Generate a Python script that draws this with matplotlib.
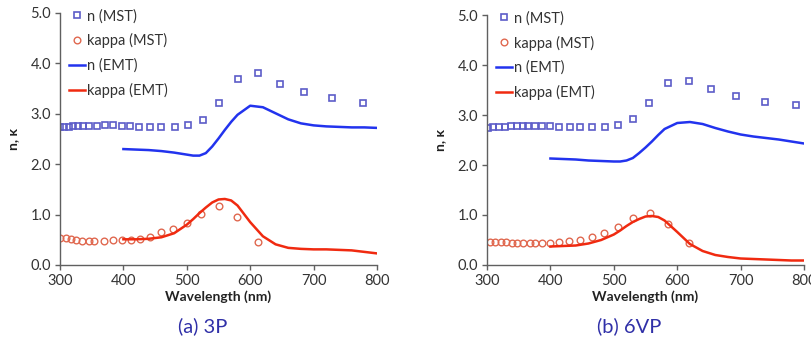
import numpy as np
import matplotlib
matplotlib.use("Agg")
from matplotlib import pyplot as plt

plt.rcParams['font.family'] = ['Lato', 'DejaVu Sans']

# ---- (a) 3P ----
a_wl_n = [300, 307, 314, 321, 329, 337, 345, 358, 371, 384, 397, 410, 425,
          442, 460, 481, 502, 525, 551, 580, 613, 647, 685, 729, 778]
a_n_mst = [2.74, 2.74, 2.74, 2.75, 2.75, 2.76, 2.76, 2.76, 2.77, 2.77, 2.76,
           2.75, 2.74, 2.74, 2.73, 2.74, 2.77, 2.88, 3.22, 3.70, 3.80, 3.60,
           3.43, 3.31, 3.22]
a_wl_k = [300, 309, 317, 326, 335, 345, 354, 369, 384, 397, 412, 426, 442,
          459, 479, 501, 523, 551, 579, 613]
a_k_mst = [0.53, 0.53, 0.51, 0.50, 0.48, 0.48, 0.48, 0.48, 0.50, 0.50, 0.50,
           0.51, 0.56, 0.66, 0.71, 0.83, 1.01, 1.17, 0.96, 0.46]

emt_wl = [400, 420, 440, 460, 480, 500, 510, 520, 530, 540, 550, 560, 570,
          580, 600, 620, 640, 660, 680, 700, 720, 740, 760, 780, 800]
a_n_emt = [2.30, 2.29, 2.28, 2.26, 2.23, 2.19, 2.17, 2.17, 2.22, 2.35, 2.51,
           2.68, 2.84, 2.98, 3.16, 3.13, 3.01, 2.89, 2.81, 2.77, 2.75, 2.74,
           2.73, 2.73, 2.72]
a_k_emt = [0.51, 0.51, 0.52, 0.55, 0.63, 0.80, 0.91, 1.03, 1.14, 1.24, 1.30,
           1.31, 1.28, 1.18, 0.85, 0.57, 0.41, 0.34, 0.32, 0.31, 0.31, 0.30,
           0.29, 0.26, 0.23]

# ---- (b) 6VP ----
b_wl_n = [302, 310, 319, 328, 338, 347, 356, 365, 376, 386, 400, 414, 431,
          447, 465, 486, 507, 531, 556, 586, 618, 653, 693, 738, 788]
b_n_mst = [2.75, 2.76, 2.77, 2.77, 2.78, 2.78, 2.78, 2.78, 2.78, 2.78, 2.78,
           2.77, 2.77, 2.77, 2.77, 2.77, 2.80, 2.93, 3.24, 3.64, 3.68, 3.53,
           3.38, 3.27, 3.20]
b_wl_k = [304, 313, 322, 330, 339, 348, 356, 367, 376, 386, 399, 414, 430,
          447, 465, 485, 506, 531, 557, 586, 618]
b_k_mst = [0.46, 0.45, 0.45, 0.45, 0.44, 0.44, 0.44, 0.44, 0.44, 0.44, 0.44,
           0.45, 0.47, 0.50, 0.56, 0.63, 0.75, 0.93, 1.03, 0.82, 0.43]
b_n_emt = [2.13, 2.12, 2.11, 2.09, 2.08, 2.07, 2.07, 2.09, 2.14, 2.24, 2.35,
           2.47, 2.60, 2.72, 2.84, 2.86, 2.82, 2.74, 2.67, 2.61, 2.57, 2.54,
           2.51, 2.47, 2.43]
b_k_emt = [0.37, 0.38, 0.39, 0.43, 0.50, 0.61, 0.69, 0.78, 0.86, 0.92, 0.97,
           0.98, 0.96, 0.89, 0.66, 0.42, 0.28, 0.20, 0.16, 0.13, 0.12, 0.11,
           0.10, 0.09, 0.09]

labels = ['n (MST)', 'kappa (MST)', 'n (EMT)', 'kappa (EMT)']
captions = ['(a) 3P', '(b) 6VP']

SQ = '#5c5cc8'
CI = '#e0684f'
BL = '#2233ee'
RD = '#f02a10'
TXT = '#333333'
AX = '#606060'

fig = plt.figure(figsize=(8.12, 3.49), dpi=100)
ax_a = fig.add_axes([0.0739, 0.2407, 0.3904, 0.7221])
ax_b = fig.add_axes([0.5998, 0.2407, 0.3904, 0.7163])

panels = [
    (ax_a, a_wl_n, a_n_mst, a_wl_k, a_k_mst, a_n_emt, a_k_emt),
    (ax_b, b_wl_n, b_n_mst, b_wl_k, b_k_mst, b_n_emt, b_k_emt),
]

for i, (ax, wn, nm, wk, km, ne, ke) in enumerate(panels):
    ax.plot(wn, nm, 's', ms=4.3, mfc='none', mec=SQ, mew=1.2, label=labels[0])
    ax.plot(wk, km, 'o', ms=4.8, mfc='none', mec=CI, mew=1.0, label=labels[1])
    ax.plot(emt_wl, ne, '-', color=BL, lw=1.8, label=labels[2])
    ax.plot(emt_wl, ke, '-', color=RD, lw=1.8, label=labels[3])

    ax.set_xlim(300, 800)
    ax.set_ylim(0, 5)
    ax.set_xticks([300, 400, 500, 600, 700, 800])
    ax.set_yticks([0, 1, 2, 3, 4, 5])
    ax.set_yticklabels(['%.1f' % v for v in [0, 1, 2, 3, 4, 5]])
    for s in ['top', 'right']:
        ax.spines[s].set_visible(False)
    for s in ['left', 'bottom']:
        ax.spines[s].set_color(AX)
        ax.spines[s].set_linewidth(1.0)
    ax.tick_params(direction='out', length=3.5, width=1.0, color=AX,
                   labelsize=10.5, labelcolor=TXT, pad=3)
    ax.set_xlabel('Wavelength (nm)', fontsize=10, fontweight='bold',
                  color='#222222', labelpad=2)
    ax.set_ylabel('n, κ', fontsize=10, fontweight='bold', color='#222222',
                  labelpad=8)

    # excel-style legend, no frame, short handles
    leg = ax.legend(loc='upper left', bbox_to_anchor=(0.0, 1.05),
                    frameon=False, fontsize=10.5, handlelength=1.1,
                    handletextpad=0.15, labelspacing=0.68, borderaxespad=0.2,
                    numpoints=1)
    for t in leg.get_texts():
        t.set_color(TXT)

    pos = ax.get_position()
    fig.text(pos.x0 + pos.width * 0.5 - 0.02, 0.066, captions[i],
             ha='center', va='center', fontsize=14.5, color='#3030a8')

fig.savefig('out.png', dpi=100)
